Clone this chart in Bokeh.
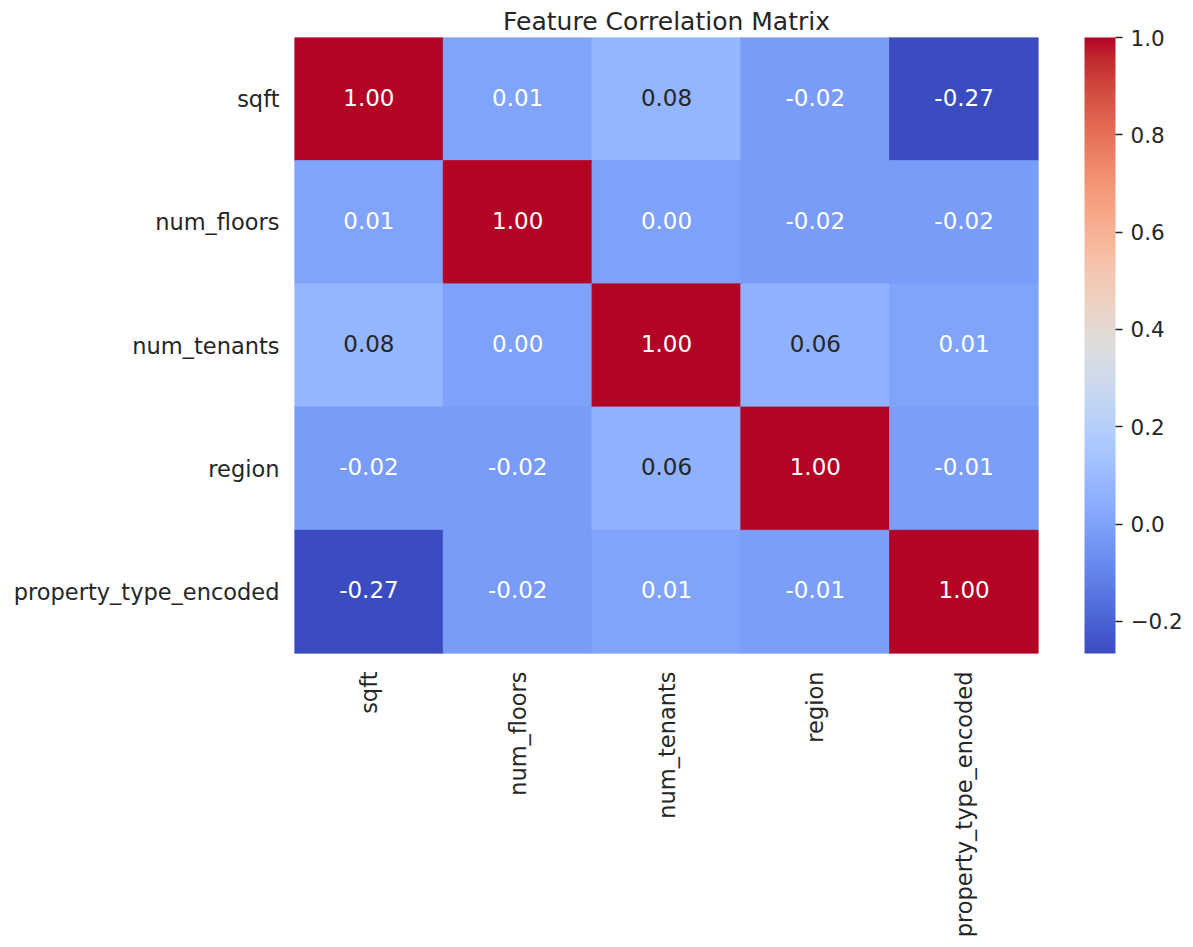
import math
from bokeh.plotting import figure
from bokeh.models import (ColumnDataSource, LinearColorMapper, ColorBar, FixedTicker,
                          CustomJSTickFormatter, Title, FactorRange)
from bokeh.transform import transform
from bokeh.core.properties import value
from bokeh.embed import file_html
from bokeh.resources import INLINE

# ---------------- data ----------------
features = ["sqft", "num_floors", "num_tenants", "region", "property_type_encoded"]
row_sqft = [1.00, 0.01, 0.08, -0.02, -0.266]
row_num_floors = [0.01, 1.00, 0.00, -0.02, -0.02]
row_num_tenants = [0.08, 0.00, 1.00, 0.06, 0.01]
row_region = [-0.02, -0.02, 0.06, 1.00, -0.01]
row_property_type_encoded = [-0.266, -0.02, 0.01, -0.01, 1.00]
matrix = [row_sqft, row_num_floors, row_num_tenants, row_region, row_property_type_encoded]
colorbar_ticks = [-0.2, 0.0, 0.2, 0.4, 0.6, 0.8, 1.0]
title_text = "Feature Correlation Matrix"

# ---------------- coolwarm palette (style) ----------------
_cw = [(59, 76, 192), (68, 90, 204), (77, 104, 215), (87, 117, 225), (98, 130, 234),
       (108, 142, 241), (119, 154, 247), (130, 165, 251), (141, 176, 254), (152, 185, 255),
       (163, 194, 255), (174, 201, 253), (184, 208, 249), (194, 213, 244), (204, 217, 238),
       (213, 219, 230), (221, 221, 221), (229, 216, 209), (236, 211, 197), (241, 204, 185),
       (245, 196, 173), (247, 187, 160), (247, 177, 148), (247, 166, 135), (244, 154, 123),
       (241, 141, 111), (236, 127, 99), (229, 112, 88), (222, 96, 77), (213, 80, 66),
       (203, 62, 56), (192, 40, 47), (180, 4, 38)]


def build_palette(n=256):
    pal = []
    m = len(_cw) - 1
    for i in range(n):
        t = i / (n - 1) * m
        k = min(int(t), m - 1)
        f = t - k
        c = [round(_cw[k][j] + (_cw[k + 1][j] - _cw[k][j]) * f) for j in range(3)]
        pal.append(c)
    return pal


pal_rgb = build_palette()
palette = ["#%02x%02x%02x" % tuple(c) for c in pal_rgb]

vmin = min(min(r) for r in matrix)
vmax = max(max(r) for r in matrix)


def lum(rgb):
    out = []
    for c in rgb:
        c = c / 255.0
        out.append(c / 12.92 if c <= 0.03928 else ((c + 0.055) / 1.055) ** 2.4)
    return 0.2126 * out[0] + 0.7152 * out[1] + 0.0722 * out[2]


xs, ys, vs, labels, tcolors = [], [], [], [], []
for i, rname in enumerate(features):
    for j, cname in enumerate(features):
        v = matrix[i][j]
        xs.append(cname)
        ys.append(rname)
        vs.append(v)
        labels.append("%.2f" % v)
        idx = int((v - vmin) / (vmax - vmin) * 256)
        idx = max(0, min(255, idx))
        tcolors.append("#262626" if lum(pal_rgb[idx]) > 0.408 else "#ffffff")

src = ColumnDataSource(dict(x=xs, y=ys, v=vs, label=labels, tc=tcolors))
mapper = LinearColorMapper(palette=palette, low=vmin, high=vmax)

W, H = 1190, 945
FW, FH = 744, 616
L, T = 294, 37
p = figure(x_range=FactorRange(*features), y_range=FactorRange(*reversed(features)),
           width=W, height=H, min_border_left=L, min_border_right=W - L - FW,
           min_border_top=T, min_border_bottom=H - T - FH,
           output_backend="svg", toolbar_location=None, title=None)
p.outline_line_color = None
p.grid.grid_line_color = None
p.background_fill_color = "white"

p.rect(x="x", y="y", width=1, height=1, source=src,
       fill_color=transform("v", mapper), line_color=transform("v", mapper), line_width=1)
p.text(x="x", y="y", text="label", source=src, text_color="tc",
       text_align="center", text_baseline="middle", y_offset=-2,
       text_font=value("DejaVu Sans"), text_font_size="23px")

for ax in (p.xaxis, p.yaxis):
    ax.axis_line_color = None
    ax.major_tick_line_color = None
    ax.minor_tick_line_color = None
    ax.major_tick_out = 0
    ax.major_tick_in = 0
    ax.major_label_text_font = "DejaVu Sans"
    ax.major_label_text_font_size = "22.5px"
    ax.major_label_text_color = "#262626"
p.yaxis.major_label_standoff = 15
p.xaxis.major_label_standoff = 18
p.xaxis.major_label_orientation = math.pi / 2

cb = ColorBar(color_mapper=mapper, ticker=FixedTicker(ticks=colorbar_ticks),
              formatter=CustomJSTickFormatter(code="""
                  const s = Math.abs(tick).toFixed(1);
                  return (tick < -1e-9 ? "\\u2212" : "") + s;
              """),
              width=31, height=FH, padding=0, margin=0, location=(46, 0),
              major_tick_out=7, major_tick_in=0, major_tick_line_color="#262626",
              major_tick_line_width=1.3, minor_tick_line_color=None,
              label_standoff=8, major_label_text_font_size="21.5px",
              major_label_text_color="#262626", major_label_text_font="DejaVu Sans",
              bar_line_color=None, border_line_color=None, background_fill_color=None)
p.add_layout(cb, "right")

ttl = Title(text=title_text, align="center", text_font_size="25px", text_color="#262626",
            text_font="DejaVu Sans", text_font_style="normal", standoff=3)
p.add_layout(ttl, "above")

open("out.html", "w").write(file_html(p, INLINE))
